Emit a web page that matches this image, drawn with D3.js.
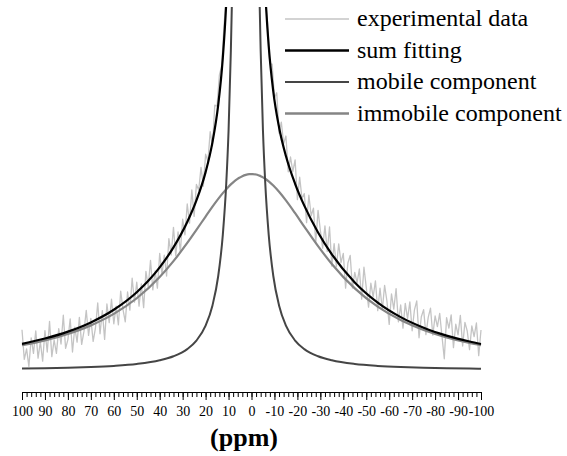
<!DOCTYPE html>
<html>
<head>
<meta charset="utf-8">
<script src="https://cdnjs.cloudflare.com/ajax/libs/d3/7.8.5/d3.min.js"></script>
<style>
  html, body { margin: 0; padding: 0; background: #fff; }
  svg { display: block; }
  svg text { font-family: "Liberation Serif", "Times New Roman", Times, "Nimbus Roman", "Noto Serif", "DejaVu Serif", FreeSerif, serif; }
</style>
</head>
<body>
<svg id="chart" width="567" height="456"></svg>
<script>
// Chemical shift grid of the fitted curves (ppm)
const ppmFit = [100, 90, 80, 70, 60, 50, 40, 34, 28, 24, 20, 17, 14.5, 12.5, 11, 10, 9, 8.5, 8, 7, 5.5, 4, 2.5, 1,
  -0.5, -2, -3, -3.5, -4, -5, -6, -7.5, -9.5, -12, -15, -19, -23, -29, -35, -45, -55, -65, -75, -85, -95, -100];

// Narrow (mobile) component
const mobile = [0.72, 0.89, 1.13, 1.49, 2.06, 3.01, 4.84, 6.85, 10.45, 14.7, 22.2, 32.3, 47.0, 67.6, 93.3, 119.5, 159.5,
  185.6, 220.1, 325.5, 705, 2353, 10625, 2353, 705, 325.5, 220.1, 185.6, 159.5, 119.5, 93.3, 67.6, 47.0, 32.3, 22.2,
  14.7, 10.45, 6.85, 4.84, 3.01, 2.06, 1.49, 1.13, 0.89, 0.72, 0.65];

// Broad (immobile) component
const immobile = [12.37, 14.83, 18.04, 22.31, 28.06, 35.88, 46.49, 54.43, 63.51, 70.06, 76.74, 81.66, 85.54, 88.43,
  90.42, 91.65, 92.80, 93.33, 93.84, 94.78, 95.99, 96.93, 97.58, 97.93, 97.98, 97.73, 97.39, 97.18, 96.93, 96.33,
  95.62, 94.33, 92.24, 89.11, 84.79, 78.40, 71.72, 61.93, 53.02, 40.79, 31.67, 24.96, 20.02, 16.32, 13.52, 12.37];

// Sum of both components
const sumFit = [13.09, 15.72, 19.17, 23.80, 30.12, 38.89, 51.33, 61.28, 73.96, 84.76, 98.94, 113.96, 132.54, 156.03,
  183.72, 211.15, 252.3, 278.9, 313.9, 420.3, 801, 2450, 10723, 2451, 803, 423.2, 317.5, 282.8, 256.4, 215.8, 188.9,
  161.9, 139.2, 121.4, 107.0, 93.1, 82.17, 68.78, 57.86, 43.80, 33.73, 26.45, 21.15, 17.21, 14.24, 13.02];

// Measured spectrum, one point per ppm from 100 down to -100
const ppmExp = d3.range(100, -101, -1);
const expValues = [
  20.1, 5.3, 10.6, 1.8, 16.1, 8.3, 19.6, 5.9, 14.1, 4.4,
  19.7, 9.0, 24.3, 6.7, 15.0, 8.3, 20.7, 13.0, 27.4, 10.8,
  15.2, 25.6, 9.0, 21.4, 13.9, 26.3, 12.8, 19.3, 29.8, 17.3,
  25.8, 14.3, 20.9, 33.5, 18.1, 29.7, 15.3, 33.0, 23.7, 35.4,
  23.1, 31.9, 22.6, 39.4, 30.3, 24.1, 39.0, 29.9, 45.9, 33.9,
  43.9, 31.9, 43.0, 31.2, 49.3, 41.6, 54.8, 40.1, 49.5, 40.9,
  58.3, 47.8, 57.4, 47.0, 65.7, 57.5, 71.3, 57.2, 69.1, 59.2,
  75.4, 67.6, 83.0, 73.4, 90.1, 76.8, 92.8, 89.9, 101.3, 91.9,
  107.9, 104.3, 119.2, 112.0, 132.4, 132.1, 147.4, 152.0, 171.9, 186.9,
  214.2, 250.7, 318.4, 415.9, 628.1, 1079.6, 2455.3, 7730.8, 7744.6, 2446.2,
  1090.1, 619.7, 428.5, 313.6, 259.8, 219.3, 186.4, 173.6, 153.1, 152.9,
  136.0, 138.6, 118.4, 123.9, 113.2, 117.0, 99.1, 106.5, 99.2, 105.1,
  85.2, 96.4, 85.7, 88.2, 73.7, 87.4, 77.1, 80.9, 63.8, 79.8,
  69.8, 60.9, 72.1, 59.3, 71.5, 51.9, 63.2, 51.7, 63.1, 53.7,
  58.3, 40.9, 53.5, 57.3, 41.0, 48.8, 43.6, 50.5, 35.4, 51.4,
  41.3, 31.4, 43.4, 36.5, 44.6, 29.7, 40.9, 30.1, 42.3, 34.5,
  22.8, 38.1, 30.4, 40.7, 24.1, 32.5, 20.9, 33.3, 25.7, 34.1,
  19.6, 30.1, 34.6, 16.1, 26.6, 30.2, 17.7, 26.3, 30.9, 17.4,
  27.0, 21.7, 28.3, 16.9, 5.6, 26.2, 20.9, 27.6, 11.2, 22.9,
  17.6, 27.3, 12.0, 23.8, 19.5, 10.2, 22.0, 16.7, 23.5, 7.2,
  20.0
];

// Axis ticks and labels
const majorTicks = [100, 90, 80, 70, 60, 50, 40, 30, 20, 10, 0, -10, -20, -30, -40, -50, -60, -70, -80, -90, -100];
const tickLabels = ["100", "90", "80", "70", "60", "50", "40", "30", "20", "10", "0",
  "-10", "-20", "-30", "-40", "-50", "-60", "-70", "-80", "-90", "-100"];
const minorTicks = d3.range(100, -101, -2);

const legendItems = ["experimental data", "sum fitting", "mobile component", "immobile component"];
const colors = { exp: "#c4c4c4", sum: "#000000", mobile: "#454545", immobile: "#858585" };

const svg = d3.select("#chart");

const x = d3.scaleLinear().domain([100, -100]).range([22, 481]);
const y = d3.scaleLinear().domain([0, 181.5]).range([370, 7]);

svg.append("defs").append("clipPath").attr("id", "plot-clip")
  .append("rect").attr("x", 18).attr("y", 7).attr("width", 467).attr("height", 384);

const plot = svg.append("g").attr("clip-path", "url(#plot-clip)");

const smooth = d3.line().x(d => x(d[0])).y(d => y(d[1])).curve(d3.curveMonotoneX);
const raw = d3.line().x(d => x(d[0])).y(d => y(d[1]));

plot.append("path")
  .datum(ppmExp.map((p, i) => [p, expValues[i]]))
  .attr("d", raw).attr("fill", "none")
  .attr("stroke", colors.exp).attr("stroke-width", 1.3).attr("stroke-linejoin", "round");

plot.append("path")
  .datum(ppmFit.map((p, i) => [p, immobile[i]]))
  .attr("d", smooth).attr("fill", "none")
  .attr("stroke", colors.immobile).attr("stroke-width", 2.2);

plot.append("path")
  .datum(ppmFit.map((p, i) => [p, mobile[i]]))
  .attr("d", smooth).attr("fill", "none")
  .attr("stroke", colors.mobile).attr("stroke-width", 2);

plot.append("path")
  .datum(ppmFit.map((p, i) => [p, sumFit[i]]))
  .attr("d", smooth).attr("fill", "none")
  .attr("stroke", colors.sum).attr("stroke-width", 2.2);

// Bottom axis: minor ticks every 2 ppm, labelled major ticks every 10 ppm
const axisY = 392;
const minorAxis = svg.append("g").attr("transform", `translate(0,${axisY})`)
  .call(d3.axisBottom(x).tickValues(minorTicks).tickSize(5).tickSizeOuter(0).tickFormat(""));
minorAxis.select(".domain").remove();
minorAxis.selectAll("line").attr("stroke", "#000").attr("stroke-width", 1);

const majorAxis = svg.append("g").attr("transform", `translate(0,${axisY})`)
  .call(d3.axisBottom(x).tickValues(majorTicks).tickSize(8).tickSizeOuter(0).tickPadding(6)
    .tickFormat((d, i) => tickLabels[i]));
majorAxis.attr("font-family", null);
majorAxis.select(".domain").attr("stroke", "#000").attr("stroke-width", 1);
majorAxis.selectAll("line").attr("stroke", "#000").attr("stroke-width", 1);
majorAxis.selectAll("text").attr("font-size", 14).attr("fill", "#000");

svg.append("text")
  .attr("x", 244).attr("y", 446)
  .attr("text-anchor", "middle")
  .attr("font-weight", "bold").attr("font-size", 26)
  .text("(ppm)");

// Legend
const legendStroke = [colors.exp, colors.sum, colors.mobile, colors.immobile];
const legendWidth = [1.5, 2.5, 2.2, 2.5];
const legend = svg.append("g");
legendItems.forEach((label, i) => {
  const ly = 19 + i * 31.5;
  legend.append("line")
    .attr("x1", 285).attr("x2", 349).attr("y1", ly).attr("y2", ly)
    .attr("stroke", legendStroke[i]).attr("stroke-width", legendWidth[i]);
  legend.append("text")
    .attr("x", 357).attr("y", ly + 7)
    .attr("font-size", 24).attr("fill", "#000")
    .text(label);
});
</script>
</body>
</html>
